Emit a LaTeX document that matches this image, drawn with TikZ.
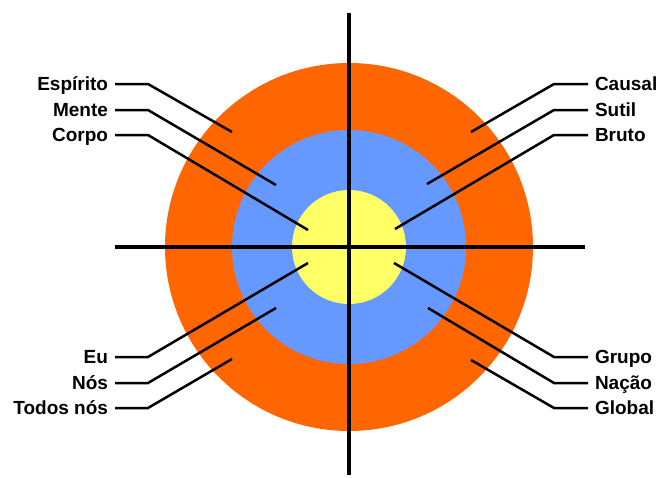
\documentclass[tikz,border=0pt]{standalone}
\usepackage{fontspec}
\setmainfont{Liberation Sans}
\begin{document}
\begin{tikzpicture}[x=1pt,y=-1pt,
  ring/.style={circle,inner sep=0pt,draw=none},
  axis/.style={line width=3.2pt},
  leader/.style={line width=2.5pt},
  lbl/.style={font=\bfseries\fontsize{19}{21}\selectfont,inner sep=0pt,text height=13.5pt,text depth=0pt,outer xsep=7pt},
  lbll/.style={lbl,anchor=east},
  lblr/.style={lbl,anchor=west}]
\definecolor{orng}{HTML}{FF6600}
\definecolor{blu}{HTML}{6699FF}
\definecolor{yel}{HTML}{FFFF66}
\useasboundingbox (0,0) rectangle (659,477);
% rings
\node[ring,fill=orng,minimum size=368pt] (outer) at (349,247) {};
\node[ring,fill=blu,minimum size=234pt] (mid) at (349,247) {};
\node[ring,fill=yel,minimum size=114pt] (inner) at (349,247) {};
% axes
\coordinate (top) at (349,13);
\coordinate (bot) at (349,475);
\coordinate (lft) at (115,247);
\coordinate (rgt) at (585,247);
\draw[axis] (top) -- (bot);
\draw[axis] (lft) -- (rgt);
% left labels
\node[lbll] (esp) at (115,84) {Espírito};
\node[lbll] (men) at (115,110) {Mente};
\node[lbll] (cor) at (115,135) {Corpo};
\node[lbll] (eu) at (115,357) {Eu};
\node[lbll] (nos) at (115,383) {Nós};
\node[lbll] (tod) at (115,408) {Todos nós};
% right labels
\node[lblr] (cau) at (588,84) {Causal};
\node[lblr] (sut) at (588,110) {Sutil};
\node[lblr] (bru) at (588,135) {Bruto};
\node[lblr] (gru) at (588,357) {Grupo};
\node[lblr] (nac) at (588,383) {Nação};
\node[lblr] (glo) at (588,408) {Global};
% end points
\coordinate (espE) at (232,132);
\coordinate (menE) at (276,185);
\coordinate (corE) at (308,230);
\coordinate (euE) at (308,263);
\coordinate (nosE) at (276,308);
\coordinate (todE) at (232,359);
\coordinate (cauE) at (471,132);
\coordinate (sutE) at (427,184);
\coordinate (bruE) at (395,229);
\coordinate (gruE) at (394,263);
\coordinate (nacE) at (428,308);
\coordinate (gloE) at (471,360);
% leaders
\draw[leader] (esp.east) -- ++(33,0) -- (espE);
\draw[leader] (men.east) -- ++(33,0) -- (menE);
\draw[leader] (cor.east) -- ++(33,0) -- (corE);
\draw[leader] (eu.east) -- ++(33,0) -- (euE);
\draw[leader] (nos.east) -- ++(33,0) -- (nosE);
\draw[leader] (tod.east) -- ++(33,0) -- (todE);
\draw[leader] (cau.west) -- ++(-34,0) -- (cauE);
\draw[leader] (sut.west) -- ++(-34,0) -- (sutE);
\draw[leader] (bru.west) -- ++(-34,0) -- (bruE);
\draw[leader] (gru.west) -- ++(-34,0) -- (gruE);
\draw[leader] (nac.west) -- ++(-34,0) -- (nacE);
\draw[leader] (glo.west) -- ++(-34,0) -- (gloE);
\end{tikzpicture}
\end{document}
